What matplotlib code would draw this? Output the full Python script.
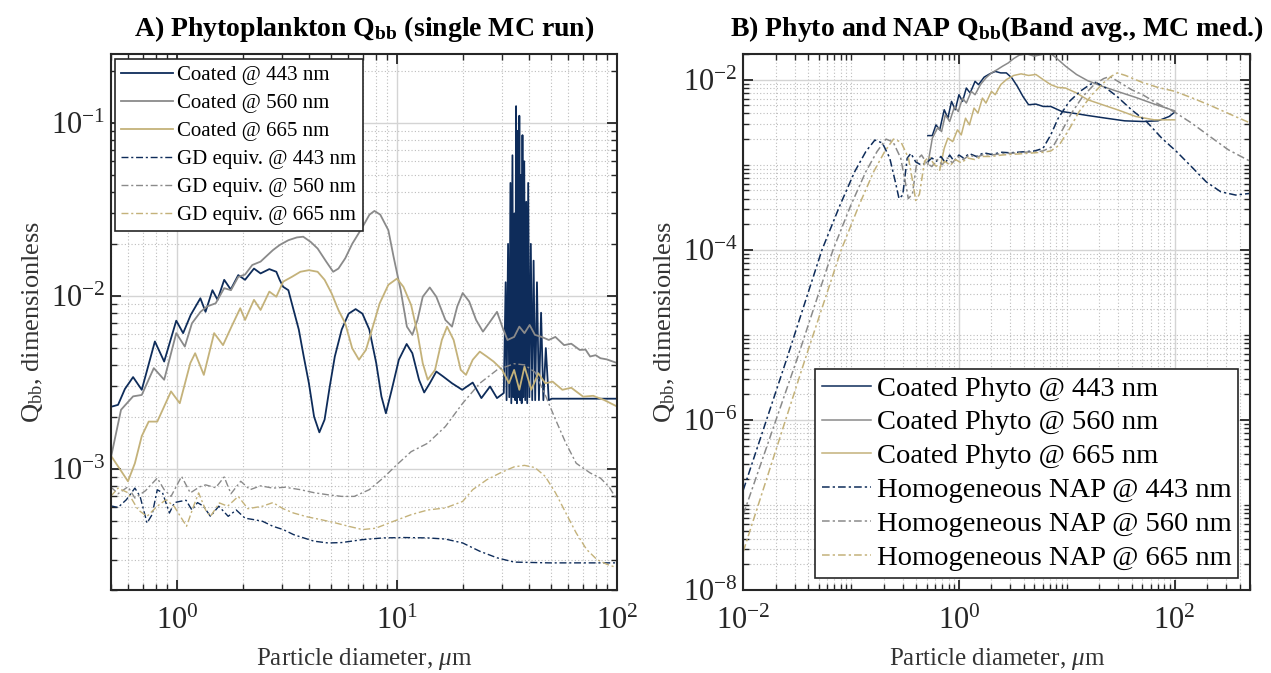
import numpy as np
import matplotlib
matplotlib.use("Agg")
import matplotlib.pyplot as plt
from matplotlib.ticker import LogLocator, NullFormatter

plt.rcParams['font.family'] = ['Liberation Serif', 'DejaVu Serif']
plt.rcParams['mathtext.fontset'] = 'custom'
plt.rcParams['mathtext.rm'] = 'Liberation Serif'
plt.rcParams['mathtext.it'] = 'Liberation Serif:italic'
plt.rcParams['mathtext.bf'] = 'Liberation Serif:bold'

NAVY = '#0e2c5a'
GRAY = '#8a8a8a'
GOLD = '#c4b27a'
INK = '#262626'

# ---------------- Panel A : single MC run ----------------
a_xticks = [1, 10, 100]
a_yticks = [1e-3, 1e-2, 1e-1]

a_coat443_d = [0.5, 0.509, 0.54, 0.58, 0.632, 0.692, 0.794, 0.875, 0.993, 1.067, 1.155, 1.278, 1.349,
               1.45, 1.53, 1.64, 1.756, 1.90, 2.04, 2.24, 2.40, 2.63, 2.83, 2.93, 3.04, 3.21, 3.39,
               3.58, 3.77, 3.98, 4.2, 4.44, 4.69, 4.95, 5.22, 5.61, 6.03, 6.49, 6.97, 7.49, 8.05,
               8.5, 8.91, 9.47, 10.2, 11.07, 11.75, 12.6, 13.3, 14.1, 15.1, 16.2, 17.8, 19.8, 22.1,
               24.2, 26.5, 28.5, 30.6,
               31.2, 31.5, 32.0, 32.4, 32.8, 33.1, 33.5, 33.8, 34.2, 34.5, 34.8, 35.1, 35.4, 35.7,
               36.0, 36.3, 36.6, 36.9, 37.2, 37.5, 37.9, 38.3, 38.7, 39.1, 39.5, 40.0, 40.6, 41.2,
               41.8, 42.5, 43.3, 44.2, 45.2, 46.3, 47.5, 49.0, 50.5, 100.0]
a_coat443_q = [2.3e-3, 2.3e-3, 2.35e-3, 2.9e-3, 3.4e-3, 2.87e-3, 5.46e-3, 4.18e-3, 7.2e-3, 6.1e-3, 7.77e-3,
               9.7e-3, 8.1e-3, 1.08e-2, 9.5e-3, 1.24e-2, 1.09e-2, 1.32e-2, 1.24e-2, 1.44e-2, 1.35e-2,
               1.43e-2, 1.38e-2, 1.24e-2, 1.13e-2, 1.08e-2, 8.3e-3, 6.4e-3, 4.47e-3, 3.13e-3, 2.01e-3,
               1.63e-3, 1.93e-3, 3.0e-3, 4.47e-3, 6.4e-3, 7.9e-3, 8.4e-3, 7.9e-3, 6.4e-3, 4.1e-3,
               2.63e-3, 2.1e-3, 2.87e-3, 4.28e-3, 5.28e-3, 4.67e-3, 3.28e-3, 2.77e-3, 3.13e-3, 3.66e-3,
               3.43e-3, 3.13e-3, 2.87e-3, 3.16e-3, 2.57e-3, 3.0e-3, 2.57e-3, 2.75e-3,
               1.2e-2, 2.5e-3, 2.0e-2, 2.6e-3, 4.5e-2, 2.4e-3, 6.5e-2, 2.6e-3, 3.0e-2, 2.5e-3, 0.125,
               2.4e-3, 0.09, 2.6e-3, 0.11, 2.5e-3, 0.05, 2.4e-3, 0.085, 2.6e-3, 0.06, 2.5e-3, 0.035,
               2.4e-3, 0.045, 2.6e-3, 0.02, 2.5e-3, 0.016, 2.5e-3, 0.012, 2.5e-3, 8e-3, 2.5e-3, 5e-3,
               2.5e-3, 2.55e-3, 2.55e-3]

a_coat560_d = [0.5, 0.557, 0.632, 0.692, 0.785, 0.875, 0.993, 1.086, 1.17, 1.28, 1.37, 1.50, 1.64, 1.76,
               1.90, 2.04, 2.2, 2.4, 2.54, 2.73, 2.93, 3.21, 3.51, 3.75, 4.06, 4.36, 4.77, 5.13, 5.42,
               5.82, 6.26, 6.97, 7.5, 7.9, 8.4, 9.14, 9.65, 10.4, 11.1, 11.75, 12.4, 13.1, 14.1, 15.1,
               16.6, 17.8, 18.8, 19.9, 21.3, 22.9, 24.6, 26.5, 28.5, 30.1, 31.8, 34.1, 36.0, 38.0,
               40.1, 42.4, 45.5, 49.0, 52.5, 57.5, 62.0, 67.7, 72.0, 75.5, 80.0, 84.1, 90.0, 100.0]
a_coat560_q = [1.15e-3, 2.2e-3, 2.63e-3, 2.68e-3, 3.83e-3, 3.28e-3, 6.1e-3, 5.1e-3, 6.95e-3, 8.1e-3,
               8.7e-3, 9.07e-3, 1.11e-2, 1.08e-2, 1.29e-2, 1.33e-2, 1.51e-2, 1.58e-2, 1.69e-2, 1.84e-2,
               1.97e-2, 2.1e-2, 2.18e-2, 2.2e-2, 2.05e-2, 1.88e-2, 1.58e-2, 1.38e-2, 1.44e-2, 1.65e-2,
               2.0e-2, 2.5e-2, 2.95e-2, 3.1e-2, 2.95e-2, 2.4e-2, 1.69e-2, 1.08e-2, 6.65e-3, 5.96e-3,
               7.27e-3, 9.9e-3, 1.12e-2, 9.9e-3, 7.27e-3, 6.65e-3, 8.7e-3, 1.04e-2, 9.3e-3, 7.27e-3,
               6.22e-3, 7.1e-3, 8.1e-3, 6.65e-3, 5.57e-3, 5.8e-3, 6.65e-3, 6.1e-3, 6.8e-3, 5.96e-3,
               5.8e-3, 5.57e-3, 5.8e-3, 5.2e-3, 5.3e-3, 4.88e-3, 4.9e-3, 4.47e-3, 4.55e-3, 4.37e-3,
               4.3e-3, 4.1e-3]

a_coat665_d = [0.5, 0.599, 0.644, 0.692, 0.744, 0.814, 0.875, 0.94, 1.03, 1.15, 1.21, 1.325, 1.476, 1.62,
               1.77, 1.94, 2.04, 2.24, 2.40, 2.63, 2.83, 3.04, 3.33, 3.64, 3.98, 4.36, 4.69, 5.04, 5.42,
               5.82, 6.26, 6.72, 7.23, 7.77, 8.35, 9.14, 10.0, 10.7, 11.6, 12.4, 13.1, 13.8, 14.9,
               16.0, 16.9, 18.1, 19.5, 20.6, 22.1, 23.8, 25.6, 27.5, 30.1, 32.3, 34.1, 36.0, 38.0,
               40.8, 43.9, 47.2, 51.0, 56.5, 62.0, 70.2, 78.0, 87.2, 100.0]
a_coat665_q = [1.2e-3, 8.5e-4, 1.08e-3, 1.55e-3, 1.88e-3, 1.88e-3, 2.3e-3, 2.81e-3, 2.4e-3, 4.09e-3,
               4.67e-3, 3.5e-3, 6.1e-3, 5.2e-3, 6.65e-3, 8.5e-3, 7.27e-3, 9.5e-3, 8.3e-3, 1.06e-2,
               9.9e-3, 1.21e-2, 1.29e-2, 1.38e-2, 1.41e-2, 1.38e-2, 1.24e-2, 1.04e-2, 8.3e-3, 6.95e-3,
               4.99e-3, 4.28e-3, 4.88e-3, 6.65e-3, 9.07e-3, 1.16e-2, 1.26e-2, 1.13e-2, 8.87e-3, 6.1e-3,
               4.09e-3, 3.28e-3, 3.74e-3, 5.57e-3, 6.65e-3, 5.57e-3, 3.74e-3, 3.5e-3, 4.28e-3, 4.77e-3,
               4.47e-3, 4.18e-3, 3.74e-3, 3.13e-3, 3.74e-3, 2.87e-3, 3.91e-3, 2.87e-3, 3.58e-3, 3.13e-3,
               3.2e-3, 2.87e-3, 2.95e-3, 2.62e-3, 2.65e-3, 2.51e-3, 2.3e-3]

a_gd443_d = [0.5, 0.509, 0.54, 0.589, 0.644, 0.68, 0.731, 0.771, 0.814, 0.86, 0.924, 0.975, 1.03, 1.1,
             1.17, 1.24, 1.32, 1.42, 1.55, 1.71, 1.86, 2.04, 2.24, 2.45, 2.73, 3.04, 3.39, 3.77, 4.2,
             4.86, 5.6, 6.97, 8.65, 10.8, 13.8, 16.6, 19.9, 23.8, 28.5, 34.1, 49.0, 100.0]
a_gd443_q = [6.1e-4, 6.1e-4, 6.0e-4, 6.65e-4, 7.76e-4, 6.95e-4, 4.88e-4, 5.45e-4, 7.59e-4, 7.3e-4,
             5.57e-4, 6.4e-4, 6.5e-4, 6.6e-4, 5.8e-4, 6.4e-4, 6.1e-4, 5.33e-4, 6.1e-4, 5.33e-4, 5.8e-4,
             5.2e-4, 5.1e-4, 4.99e-4, 4.67e-4, 4.47e-4, 4.18e-4, 4.0e-4, 3.83e-4, 3.74e-4, 3.76e-4,
             3.91e-4, 4.0e-4, 4.02e-4, 4.0e-4, 3.94e-4, 3.74e-4, 3.35e-4, 3.07e-4, 2.9e-4, 2.87e-4,
             2.87e-4]

a_gd560_d = [0.5, 0.54, 0.599, 0.644, 0.72, 0.814, 0.875, 0.94, 1.05, 1.15, 1.27, 1.35, 1.5, 1.64, 1.76,
             1.95, 2.15, 2.4, 2.73, 3.1, 3.64, 4.2, 4.86, 5.61, 6.4, 7.49, 8.65, 10.0, 11.6, 13.8, 16.6,
             19.9, 23.8, 28.5, 34.1, 38.0, 42.4, 47.2, 52.6, 58.6, 65.3, 75.5, 84.1, 92.0, 100.0]
a_gd560_q = [7.9e-4, 7.2e-4, 7.9e-4, 6.8e-4, 7.5e-4, 8.87e-4, 7.6e-4, 6.95e-4, 9.07e-4, 7.28e-4,
             7.9e-4, 8.1e-4, 7.8e-4, 9.0e-4, 7.2e-4, 8.5e-4, 7.6e-4, 8.0e-4, 7.76e-4, 7.85e-4, 7.6e-4,
             7.3e-4, 7.1e-4, 6.95e-4, 6.95e-4, 7.6e-4, 8.87e-4, 1.06e-3, 1.26e-3, 1.41e-3, 1.76e-3,
             2.4e-3, 3.13e-3, 3.74e-3, 4.06e-3, 4.0e-3, 3.63e-3, 2.68e-3, 1.93e-3, 1.41e-3, 1.08e-3,
             9.5e-4, 8.87e-4, 7.9e-4, 6.65e-4]

a_gd665_d = [0.5, 0.54, 0.599, 0.667, 0.731, 0.814, 0.891, 0.97, 1.106, 1.19, 1.255, 1.35, 1.42, 1.56,
             1.7, 1.9, 2.1, 2.45, 2.73, 3.04, 3.39, 3.9, 4.52, 5.2, 6.03, 6.97, 8.0, 9.65, 11.6, 13.8,
             16.6, 19.9, 22.1, 25.6, 29.5, 34.1, 38.0, 42.4, 47.2, 52.6, 58.6, 65.3, 72.8, 81.1, 90.4,
             100.0]
a_gd665_q = [6.95e-4, 7.76e-4, 7.3e-4, 5.8e-4, 5.33e-4, 6.1e-4, 6.65e-4, 6.1e-4, 4.67e-4, 6.1e-4,
             7.28e-4, 5.8e-4, 5.33e-4, 6.37e-4, 6.1e-4, 6.95e-4, 5.9e-4, 6.1e-4, 6.4e-4, 5.9e-4, 5.57e-4,
             5.3e-4, 5.1e-4, 4.9e-4, 4.67e-4, 4.47e-4, 4.55e-4, 4.99e-4, 5.45e-4, 5.8e-4, 5.96e-4,
             6.5e-4, 7.6e-4, 8.67e-4, 9.5e-4, 1.03e-3, 1.05e-3, 1.02e-3, 9.07e-4, 7.28e-4, 5.57e-4,
             4.27e-4, 3.43e-4, 3.0e-4, 2.81e-4, 2.69e-4]

# ---------------- Panel B : band averaged, MC median ----------------
b_xticks = [1e-2, 1, 1e2]
b_yticks = [1e-8, 1e-6, 1e-4, 1e-2]

b_coat443_d = [0.515, 0.566, 0.612, 0.663, 0.73, 0.789, 0.853, 0.924, 1.0, 1.08, 1.17, 1.27, 1.41, 1.52,
               1.71, 1.93, 2.17, 2.44, 2.75, 3.09, 3.48, 3.92, 4.42, 5.17, 6.05, 7.1, 9.0, 11.4, 15.6,
               23.2, 34.4, 51.0, 70.0, 89.0, 100.0]
b_coat443_q = [2.2e-3, 2.2e-3, 2.94e-3, 2.57e-3, 4.43e-3, 3.52e-3, 5.55e-3, 4.43e-3, 6.65e-3, 5.55e-3,
               7.97e-3, 6.97e-3, 9.55e-3, 8.73e-3, 1.07e-2, 1.17e-2, 1.25e-2, 1.2e-2, 1.2e-2, 1.05e-2,
               8.34e-3, 6.35e-3, 5.07e-3, 5.16e-3, 4.84e-3, 4.84e-3, 4.22e-3, 4.04e-3, 3.79e-3, 3.52e-3,
               3.28e-3, 3.22e-3, 3.28e-3, 3.69e-3, 4.15e-3]

b_coat560_d = [0.515, 0.566, 0.637, 0.69, 0.747, 0.82, 0.91, 0.985, 1.08, 1.17, 1.3, 1.41, 1.58, 1.78,
               2.0, 2.26, 2.54, 2.86, 3.22, 3.62, 4.25, 4.97, 5.82, 6.82, 7.98, 9.73, 12.3, 15.6, 21.4,
               29.4, 43.6, 64.7, 100.0]
b_coat560_q = [1.01e-3, 2.05e-3, 2.74e-3, 2.45e-3, 3.86e-3, 3.22e-3, 4.84e-3, 4.22e-3, 6.07e-3, 5.3e-3,
               7.28e-3, 6.65e-3, 8.73e-3, 1.05e-2, 1.2e-2, 1.31e-2, 1.44e-2, 1.57e-2, 1.77e-2, 1.94e-2,
               2.01e-2, 1.89e-2, 1.97e-2, 2.12e-2, 1.8e-2, 1.44e-2, 1.15e-2, 9.73e-3, 8.34e-3, 7.28e-3,
               6.18e-3, 5.16e-3, 4.3e-3]

b_coat665_d = [0.663, 0.73, 0.789, 0.875, 0.969, 1.05, 1.15, 1.25, 1.38, 1.5, 1.65, 1.78, 2.0, 2.17,
               2.44, 2.75, 3.22, 3.77, 4.42, 5.17, 6.05, 7.1, 8.3, 9.73, 12.3, 15.6, 21.4, 29.4, 43.6,
               64.7, 100.0]
b_coat665_q = [8.65e-4, 1.56e-3, 2.05e-3, 1.87e-3, 2.57e-3, 2.24e-3, 3.52e-3, 2.94e-3, 4.63e-3, 4.04e-3,
               6.07e-3, 5.3e-3, 7.28e-3, 6.65e-3, 8.73e-3, 1.0e-2, 1.12e-2, 1.17e-2, 1.12e-2, 1.15e-2,
               1.0e-2, 8.73e-3, 8.1e-3, 7.97e-3, 6.97e-3, 5.81e-3, 5.07e-3, 4.43e-3, 3.69e-3, 3.37e-3,
               3.37e-3]

b_nap443_d = [0.01, 0.0254, 0.0537, 0.0785, 0.108, 0.137, 0.166, 0.195, 0.228, 0.257, 0.278, 0.301,
              0.331, 0.358, 0.397, 0.447, 0.50, 0.56, 0.62, 0.68, 0.75, 0.82, 0.90, 1.0, 1.1, 1.25, 1.45,
              1.7, 2.0, 2.5, 3.0, 4.0, 5.0, 6.0, 7.1, 8.3, 10.5, 13.3, 16.5, 18.5, 23.0, 29.0, 40.0,
              55.0, 76.0, 104.0, 143.0, 196.0, 268.0, 368.0, 500.0]
b_nap443_q = [1.5e-7, 5.3e-6, 1.0e-4, 3.3e-4, 8.3e-4, 1.43e-3, 1.95e-3, 1.8e-3, 1.2e-3, 6.3e-4, 4.0e-4,
              4.4e-4, 1.19e-3, 1.36e-3, 1.08e-3, 9.9e-4, 1.05e-3, 1.2e-3, 1.1e-3, 1.25e-3, 1.05e-3,
              1.3e-3, 1.1e-3, 1.3e-3, 1.2e-3, 1.35e-3, 1.25e-3, 1.38e-3, 1.32e-3, 1.4e-3, 1.38e-3,
              1.42e-3, 1.45e-3, 1.55e-3, 2.24e-3, 3.5e-3, 5.5e-3, 7.3e-3, 8.8e-3, 9.3e-3, 8.0e-3,
              6.4e-3, 4.4e-3, 3.2e-3, 2.05e-3, 1.43e-3, 9.5e-4, 6.3e-4, 4.8e-4, 4.4e-4, 4.6e-4]

b_nap560_d = [0.01, 0.0317, 0.068, 0.099, 0.137, 0.174, 0.211, 0.245, 0.288, 0.32, 0.339, 0.37, 0.41,
              0.45, 0.50, 0.56, 0.63, 0.70, 0.78, 0.87, 0.97, 1.1, 1.25, 1.45, 1.7, 2.0, 2.5, 3.0, 4.0,
              5.0, 6.0, 7.5, 9.0, 11.0, 14.0, 18.0, 22.0, 25.0, 30.0, 40.0, 51.0, 70.0, 100.0, 143.0,
              212.0, 314.0, 500.0]
b_nap560_q = [7.7e-8, 5.3e-6, 1.0e-4, 3.3e-4, 8.3e-4, 1.43e-3, 2.0e-3, 1.85e-3, 1.2e-3, 6.0e-4, 4.0e-4,
              4.5e-4, 1.15e-3, 1.3e-3, 1.05e-3, 9.5e-4, 1.15e-3, 1.0e-3, 1.2e-3, 1.05e-3, 1.25e-3,
              1.15e-3, 1.3e-3, 1.22e-3, 1.32e-3, 1.3e-3, 1.35e-3, 1.36e-3, 1.4e-3, 1.42e-3, 1.45e-3,
              1.65e-3, 2.5e-3, 4.0e-3, 6.3e-3, 8.8e-3, 1.03e-2, 1.09e-2, 9.5e-3, 7.6e-3, 6.6e-3,
              5.2e-3, 4.15e-3, 3.1e-3, 2.15e-3, 1.5e-3, 1.1e-3]

b_nap665_d = [0.01, 0.0377, 0.081, 0.118, 0.162, 0.205, 0.247, 0.29, 0.34, 0.375, 0.397, 0.43, 0.48,
              0.53, 0.59, 0.66, 0.74, 0.83, 0.93, 1.05, 1.2, 1.4, 1.65, 2.0, 2.5, 3.0, 4.0, 5.0, 6.0,
              7.1, 8.5, 10.5, 13.0, 17.0, 22.0, 26.0, 29.4, 35.0, 50.0, 70.0, 100.0, 150.0, 220.0,
              330.0, 500.0]
b_nap665_q = [2.84e-8, 5.3e-6, 1.0e-4, 3.3e-4, 8.3e-4, 1.43e-3, 2.0e-3, 1.85e-3, 1.2e-3, 6.0e-4, 3.8e-4,
              4.5e-4, 1.1e-3, 1.25e-3, 1.0e-3, 9.2e-4, 1.1e-3, 9.8e-4, 1.15e-3, 1.05e-3, 1.2e-3, 1.15e-3,
              1.25e-3, 1.25e-3, 1.3e-3, 1.32e-3, 1.35e-3, 1.38e-3, 1.4e-3, 1.45e-3, 1.7e-3, 2.6e-3,
              4.2e-3, 6.6e-3, 9.2e-3, 1.1e-2, 1.2e-2, 1.12e-2, 9.3e-3, 8.1e-3, 7.3e-3, 6.0e-3, 4.9e-3,
              3.9e-3, 3.1e-3]

DASHDOT = (0, (5, 2, 1.5, 2))


def style_axes(ax, xticks, yticks):
    ax.set_xscale('log')
    ax.set_yscale('log')
    ax.set_xticks(xticks)
    ax.set_yticks(yticks)
    for axis in (ax.xaxis, ax.yaxis):
        axis.set_minor_locator(LogLocator(base=10, subs=np.arange(1, 10), numticks=100))
        axis.set_minor_formatter(NullFormatter())
    ax.grid(True, which='major', color='#d4d4d4', lw=1.0, ls='-')
    ax.grid(True, which='minor', color='#bdbdbd', lw=0.8, ls=(0, (1, 2)))
    ax.set_axisbelow(True)
    ax.tick_params(which='both', direction='in', top=True, right=True, colors=INK)
    ax.tick_params(which='major', length=7, width=1.3, labelsize=22)
    ax.tick_params(axis='x', which='major', pad=12)
    ax.tick_params(axis='y', which='major', pad=4)
    ax.tick_params(which='minor', length=4, width=1.0)
    for s in ax.spines.values():
        s.set_color(INK)
        s.set_linewidth(1.5)
    ax.set_xlabel(r'Particle diameter, $\mu$m', fontsize=18, color='#333333', labelpad=7)
    ax.set_ylabel(r'Q$_{\rm bb}$, dimensionless', fontsize=19, color='#333333', labelpad=4)


fig = plt.figure(figsize=(12.71, 6.73), dpi=100)

# ---- A ----
axA = fig.add_axes([0.0871, 0.1233, 0.3983, 0.7964])
style_axes(axA, a_xticks, a_yticks)
axA.plot(a_coat443_d, a_coat443_q, color=NAVY, lw=1.3, label='Coated @ 443 nm')
axA.plot(a_coat560_d, a_coat560_q, color=GRAY, lw=1.3, label='Coated @ 560 nm')
axA.plot(a_coat665_d, a_coat665_q, color=GOLD, lw=1.3, label='Coated @ 665 nm')
axA.plot(a_gd443_d, a_gd443_q, color=NAVY, lw=1.0, ls=DASHDOT, label='GD equiv. @ 443 nm')
axA.plot(a_gd560_d, a_gd560_q, color=GRAY, lw=1.0, ls=DASHDOT, label='GD equiv. @ 560 nm')
axA.plot(a_gd665_d, a_gd665_q, color=GOLD, lw=1.0, ls=DASHDOT, label='GD equiv. @ 665 nm')
axA.set_xlim(0.5, 100)
axA.set_ylim(2e-4, 0.25)
axA.set_title(r'A) Phytoplankton $\mathbf{Q_{bb}}$ (single MC run)', fontsize=20,
              fontweight='bold', pad=13)
legA = axA.legend(loc='upper left', bbox_to_anchor=(0.008, 0.99), fontsize=15, fancybox=False,
                  edgecolor=INK, framealpha=1, handlelength=2.5, labelspacing=0.4,
                  borderpad=0.3, handletextpad=0.2, borderaxespad=0)
legA.get_frame().set_linewidth(1.2)

# ---- B ----
axB = fig.add_axes([0.5848, 0.1233, 0.3987, 0.7964])
style_axes(axB, b_xticks, b_yticks)
axB.plot(b_coat443_d, b_coat443_q, color=NAVY, lw=1.1, label='Coated Phyto @ 443 nm')
axB.plot(b_coat560_d, b_coat560_q, color=GRAY, lw=1.1, label='Coated Phyto @ 560 nm')
axB.plot(b_coat665_d, b_coat665_q, color=GOLD, lw=1.1, label='Coated Phyto @ 665 nm')
axB.plot(b_nap443_d, b_nap443_q, color=NAVY, lw=1.1, ls=DASHDOT, label='Homogeneous NAP @ 443 nm')
axB.plot(b_nap560_d, b_nap560_q, color=GRAY, lw=1.1, ls=DASHDOT, label='Homogeneous NAP @ 560 nm')
axB.plot(b_nap665_d, b_nap665_q, color=GOLD, lw=1.1, ls=DASHDOT, label='Homogeneous NAP @ 665 nm')
axB.set_xlim(0.01, 500)
axB.set_ylim(1e-8, 2e-2)
axB.set_title(r'B) Phyto and NAP $\mathbf{Q_{bb}}$(Band avg., MC med.)', fontsize=20,
              fontweight='bold', pad=13)
legB = axB.legend(loc='lower right', bbox_to_anchor=(0.977, 0.022), fontsize=20.5, fancybox=False,
                  edgecolor=INK, framealpha=1, handlelength=1.7, labelspacing=0.28,
                  borderpad=0.25, handletextpad=0.2, borderaxespad=0)
legB.get_frame().set_linewidth(1.2)

fig.savefig('out.png', dpi=100)
